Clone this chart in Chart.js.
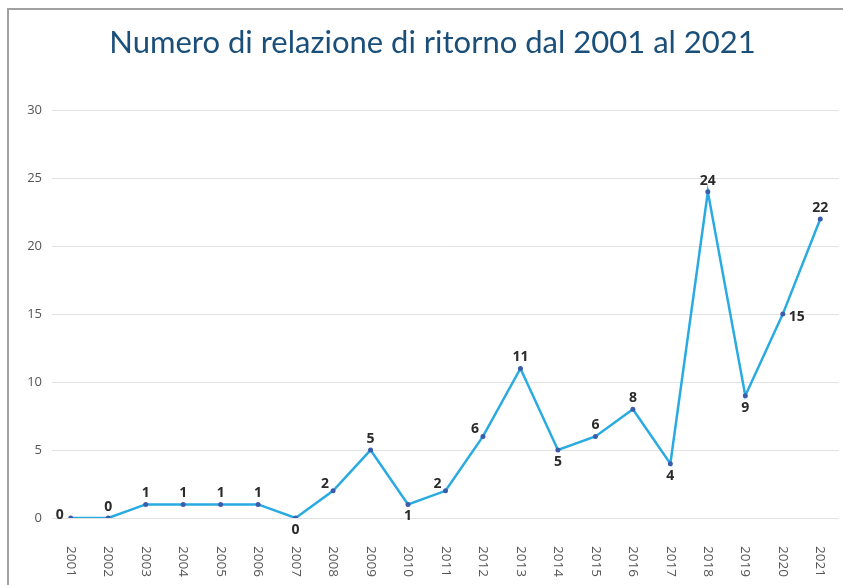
<!DOCTYPE html>
<html>
<head>
<meta charset="utf-8">
<script src="https://cdn.jsdelivr.net/npm/chart.js@4/dist/chart.umd.min.js"></script>
<style>
  html, body { margin: 0; padding: 0; background: #ffffff; }
  #wrap { width: 843px; height: 585px; position: relative; }
  canvas { display: block; }
</style>
</head>
<body>
<div id="wrap"><canvas id="chart" width="843" height="585"></canvas></div>
<script>
// Report counts per year
const years = ['2001','2002','2003','2004','2005','2006','2007','2008','2009','2010','2011',
               '2012','2013','2014','2015','2016','2017','2018','2019','2020','2021'];
const reports = [0, 0, 1, 1, 1, 1, 0, 2, 5, 1, 2, 6, 11, 5, 6, 8, 4, 24, 9, 15, 22];
const yTicks = [0, 5, 10, 15, 20, 25, 30];

// Where each value label sits relative to its point
const labelSpots = ['left','above','above','above','above','above','below','aboveLeft','above','below','aboveLeft',
                    'aboveLeft','above','below','above','above','below','above','below','right','above'];

const framePlugin = {
  id: 'frame',
  beforeDraw(chart) {
    const ctx = chart.ctx;
    ctx.save();
    ctx.strokeStyle = '#a0a0a0';
    ctx.lineWidth = 2;
    ctx.beginPath();
    ctx.moveTo(8, chart.height);
    ctx.lineTo(8, 9);
    ctx.lineTo(chart.width, 9);
    ctx.stroke();
    ctx.restore();
  }
};

// Year labels drawn reading top to bottom
const yearLabelsPlugin = {
  id: 'yearLabels',
  afterDraw(chart) {
    const ctx = chart.ctx;
    const xs = chart.scales.x;
    ctx.save();
    ctx.fillStyle = '#555555';
    ctx.font = '13.5px "Open Sans", sans-serif';
    ctx.textAlign = 'left';
    ctx.textBaseline = 'middle';
    years.forEach((y, i) => {
      const x = xs.getPixelForValue(i);
      ctx.save();
      ctx.translate(x, chart.chartArea.bottom + 28);
      ctx.rotate(Math.PI / 2);
      ctx.fillText(y, 0, 0);
      ctx.restore();
    });
    ctx.restore();
  }
};

const valueLabelsPlugin = {
  id: 'valueLabels',
  afterDatasetsDraw(chart) {
    const ctx = chart.ctx;
    const meta = chart.getDatasetMeta(0);
    ctx.save();
    ctx.fillStyle = '#2b2b2b';
    ctx.font = 'bold 14px "Open Sans", sans-serif';
    ctx.textAlign = 'center';
    ctx.textBaseline = 'middle';
    meta.data.forEach((pt, i) => {
      const v = reports[i];
      let dx = 0, dy = -11;
      switch (labelSpots[i]) {
        case 'below': dy = 12; break;
        case 'left': dx = -11; dy = -3; break;
        case 'right': dx = 14; dy = 3; break;
        case 'aboveLeft': dx = -8; dy = -7; break;
      }
      ctx.fillText(String(v), pt.x + dx, pt.y + dy);
    });
    ctx.restore();
  }
};

new Chart(document.getElementById('chart'), {
  type: 'line',
  data: {
    labels: years,
    datasets: [{
      data: reports,
      borderColor: '#29abe2',
      borderWidth: 2.5,
      backgroundColor: '#3b5cab',
      pointBackgroundColor: '#3b5cab',
      pointBorderWidth: 0,
      pointRadius: 2.5,
      tension: 0,
      fill: false
    }]
  },
  options: {
    responsive: false,
    animation: false,
    layout: { padding: { top: 0, bottom: 59, right: 0, left: 22 } },
    plugins: {
      legend: { display: false },
      tooltip: { enabled: false },
      title: {
        display: true,
        text: 'Numero di relazione di ritorno dal 2001 al 2021',
        color: '#1a4f7a',
        font: { family: 'Lato, sans-serif', size: 31, weight: 'normal' },
        padding: { top: 24, bottom: 49 }
      }
    },
    scales: {
      x: {
        type: 'category',
        offset: true,
        grid: { display: false },
        border: { display: false },
        ticks: { display: false }
      },
      y: {
        min: 0,
        max: 30,
        afterBuildTicks(scale) { scale.ticks = yTicks.map(v => ({ value: v })); },
        afterFit(scale) { scale.width = 30; },
        grid: { color: '#e2e2e2', drawTicks: false, lineWidth: 1 },
        border: { display: false },
        ticks: {
          color: '#555555',
          padding: 10,
          font: { family: '"Open Sans", sans-serif', size: 13 }
        }
      }
    }
  },
  plugins: [framePlugin, yearLabelsPlugin, valueLabelsPlugin]
});
</script>
</body>
</html>
